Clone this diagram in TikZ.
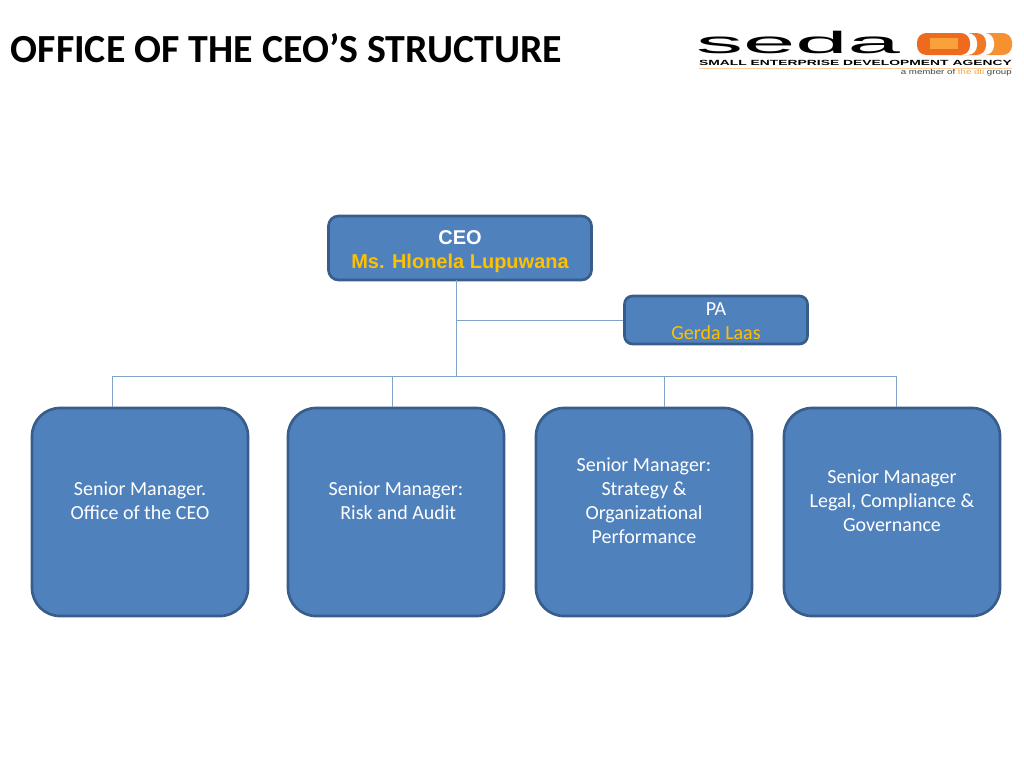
\documentclass[tikz,border=0pt]{standalone}
\usepackage{fontspec}
\setmainfont{Carlito}
\newfontfamily\arialf{Liberation Sans}
\definecolor{boxfill}{HTML}{4F81BD}
\definecolor{boxline}{HTML}{385D8A}
\definecolor{linkc}{HTML}{7FA3C9}
\definecolor{goldt}{HTML}{FFC000}
\definecolor{orangeA}{HTML}{EE6A1F}
\definecolor{orangeB}{HTML}{F9A13A}
\tikzset{
 box/.style={draw=boxline,line width=2pt,fill=boxfill,text=white,align=center,inner sep=0pt},
 ceobox/.style={box,minimum width=197.25pt,minimum height=48pt,rounded corners=7.5pt},
 pabox/.style={box,minimum width=137.25pt,minimum height=36pt,rounded corners=6pt},
 mgrbox/.style={box,minimum width=162pt,minimum height=156pt,rounded corners=21pt},
 mgrtext/.style={inner sep=0pt,align=center,text=white,font=\fontsize{15}{18}\selectfont},
 ceotext/.style={inner sep=0pt,align=center,text=white,font=\arialf\bfseries\fontsize{15}{18}\selectfont},
 link/.style={draw=linkc,line width=0.75pt},
 lbl/.style={inner sep=0pt,anchor=center},
 pill/.style={rounded corners=7pt}
}
\begin{document}
\begin{tikzpicture}[x=0.75pt,y=-0.75pt]
\useasboundingbox (0,0) rectangle (1024,768);
% title
\node[lbl,anchor=west,font=\bfseries\fontsize{29.9}{32}\selectfont] (title) at (10.5,48) {OFFICE OF THE CEO’S STRUCTURE};
% nodes
\node[ceobox] (ceo) at (460,248) {};
\node[ceotext] (ceot) at (460,252) {CEO\\\textcolor{goldt}{Ms. Hlonela Lupuwana}};
\node[pabox] (pa) at (716,320) {};
\node[mgrtext] (pat) at (716,321) {PA\\\textcolor{goldt}{Gerda Laas}};
\node[mgrbox] (m1) at (140,512) {};
\node[mgrbox] (m2) at (396,512) {};
\node[mgrbox] (m3) at (644,512) {};
\node[mgrbox] (m4) at (892,512) {};
\node[mgrtext] (t1) at (140,500.5) {Senior Manager.\\Office of the CEO};
\node[mgrtext] (t2) at (396,500.5) {Senior Manager:\\\ Risk and Audit};
\node[mgrtext] (t3) at (644,500.5) {Senior Manager:\\Strategy \&\\Organizational\\Performance};
\node[mgrtext] (t4) at (892,500.5) {Senior Manager\\Legal, Compliance \&\\Governance};
% connector junctions
\coordinate (ctop) at (456,280);
\coordinate (cpa) at (456,320);
\coordinate (cbus) at (456,376);
\coordinate (b1) at (112,376);
\coordinate (b2) at (392,376);
\coordinate (b3) at (664,376);
\coordinate (b4) at (896,376);
\coordinate (d1) at (112,407);
\coordinate (d2) at (392,407);
\coordinate (d3) at (664,407);
\coordinate (d4) at (896,407);
\draw[link] (ctop) -- (cbus);
\draw[link] (cpa) -- (pa.west);
\draw[link] (b1) -- (b4);
\draw[link] (b1) -- (d1);
\draw[link] (b2) -- (d2);
\draw[link] (b3) -- (d3);
\draw[link] (b4) -- (d4);
% logo
\node[inner sep=0pt,anchor=base,font=\arialf\fontsize{21}{21}\selectfont] (seda) at (798,53) {\scalebox{3.36}[1.1]{seda}};
\node[lbl,font=\arialf\bfseries\fontsize{5.6}{6}\selectfont] (sea) at (855.5,63) {\scalebox{1.857}[1]{SMALL ENTERPRISE DEVELOPMENT AGENCY}};
\node[lbl,anchor=east,text=black!75,font=\arialf\fontsize{5.5}{6}\selectfont] (mem) at (1012,72.7) {\scalebox{1.32}[1]{a member of \textcolor{orangeB}{the dti} group}};
\fill[orangeB!70!orangeA,pill] (950,33) rectangle (1012,55);
\fill[white,pill] (950,33) rectangle (994,55);
\fill[orangeA!75!orangeB,pill] (950,33) rectangle (986,55);
\fill[white,pill] (950,33) rectangle (977,55);
\fill[orangeA,pill] (917,33) rectangle (970,55);
\fill[orangeB] (930,38) rectangle (958,49);
\draw[orangeB!50!white,line width=0.4pt] (699,68.5) -- (1012,68.5);
\end{tikzpicture}
\end{document}
